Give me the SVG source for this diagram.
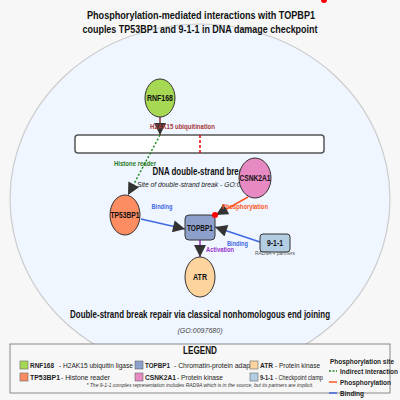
<svg xmlns="http://www.w3.org/2000/svg" width="400" height="400" viewBox="0 0 400 400">
<defs>
<style>
text{font-family:"Liberation Sans",Arial,sans-serif;}
.b{font-weight:bold;}
.t{font-size:11px;font-weight:bold;fill:#111;}
.n{font-size:9px;font-weight:bold;fill:#111;text-anchor:middle;}
.node{stroke:#333;stroke-width:1;}
.el{font-size:7.5px;font-weight:bold;text-anchor:middle;}
.lg{font-size:7.5px;fill:#222;}
.sw{stroke:#666;stroke-width:0.6;}
</style>
<marker id="arr" markerUnits="userSpaceOnUse" markerWidth="13" markerHeight="12" viewBox="0 0 10 10" refX="10" refY="5" orient="auto">
<path d="M0,0 L10,5 L0,10 z" fill="#333"/>
</marker>
</defs>
<rect width="400" height="400" fill="#f7f7f7"/>

<g id="compartment">
<ellipse cx="200" cy="199" rx="190" ry="175" fill="#eff6ff" stroke="#cccccc" stroke-width="1.2"/>
<text class="b" x="200" y="175" text-anchor="middle" font-size="10" fill="#111" textLength="95" lengthAdjust="spacingAndGlyphs">DNA double-strand break</text>
<text x="200" y="187" text-anchor="middle" font-size="8" font-style="italic" fill="#222" textLength="126" lengthAdjust="spacingAndGlyphs">Site of double-strand break - GO:0035861</text>
<text class="b" x="200" y="318" text-anchor="middle" font-size="10" fill="#111" textLength="260" lengthAdjust="spacingAndGlyphs">Double-strand break repair via classical nonhomologous end joining</text>
<text x="200" y="333" text-anchor="middle" font-size="7.5" font-style="italic" fill="#444" textLength="45" lengthAdjust="spacingAndGlyphs">(GO:0097680)</text>
</g>

<circle cx="324" cy="0" r="3" fill="#ff0000"/>
<text class="t" x="201" y="18.5" text-anchor="middle" textLength="228" lengthAdjust="spacingAndGlyphs">Phosphorylation-mediated interactions with TOPBP1</text>
<text class="t" x="200" y="33" text-anchor="middle" textLength="235" lengthAdjust="spacingAndGlyphs">couples TP53BP1 and 9-1-1 in DNA damage checkpoint</text>

<g id="chromatin">
<rect x="75" y="135" width="249" height="18" rx="3" fill="#ffffff" stroke="#555" stroke-width="1.5"/>
<line x1="200" y1="135" x2="200" y2="153" stroke="#ee0000" stroke-width="1.5" stroke-dasharray="3,2"/>
</g>

<g id="connectors" fill="none">
<line x1="160" y1="117" x2="160" y2="135" stroke="#8b3a3a" stroke-width="1.5" marker-end="url(#arr)"/>
<line x1="160" y1="135" x2="128" y2="195" stroke="#228b22" stroke-width="1.5" stroke-dasharray="2,2" marker-end="url(#arr)"/>
<line x1="141" y1="219" x2="185" y2="229" stroke="#4169e1" stroke-width="1.5" marker-end="url(#arr)"/>
<line x1="248" y1="197" x2="216" y2="215" stroke="#ff5722" stroke-width="1.5" marker-end="url(#arr)"/>
<line x1="260" y1="242" x2="215" y2="227" stroke="#4169e1" stroke-width="1.5" marker-end="url(#arr)"/>
<line x1="200" y1="240" x2="200" y2="257" stroke="#9932cc" stroke-width="1.5" marker-end="url(#arr)"/>
<text class="el" x="182.5" y="129" fill="#a83838" textLength="65" lengthAdjust="spacingAndGlyphs">H2AK15 ubiquitination</text>
<text class="el" x="135" y="166" fill="#1f7a1f" textLength="42" lengthAdjust="spacingAndGlyphs">Histone reader</text>
<text class="el" x="162" y="209" fill="#4169e1" textLength="21" lengthAdjust="spacingAndGlyphs">Binding</text>
<text class="el" x="245" y="209" fill="#ff5722" textLength="46" lengthAdjust="spacingAndGlyphs">Phosphorylation</text>
<text class="el" x="237.5" y="246" fill="#4169e1" textLength="21" lengthAdjust="spacingAndGlyphs">Binding</text>
<text class="el" x="220" y="252" fill="#9932cc" textLength="28" lengthAdjust="spacingAndGlyphs">Activation</text>
</g>

<g id="RNF168">
<ellipse class="node" cx="160" cy="98" rx="15" ry="19" fill="#a6d854"/>
<text class="n" x="160" y="101" textLength="26" lengthAdjust="spacingAndGlyphs">RNF168</text>
</g>
<g id="TP53BP1">
<ellipse class="node" cx="125" cy="215" rx="15" ry="20" fill="#fc8d62"/>
<text class="n" x="125" y="218" textLength="29" lengthAdjust="spacingAndGlyphs">TP53BP1</text>
</g>
<g id="CSNK2A1">
<ellipse class="node" cx="255" cy="178" rx="16" ry="20" fill="#e78ac3"/>
<text class="n" x="255" y="181" textLength="31" lengthAdjust="spacingAndGlyphs">CSNK2A1</text>
</g>
<g id="TOPBP1">
<rect class="node" x="185" y="215" width="30" height="25" rx="4" fill="#8da0cb"/>
<text class="n" x="200" y="231" textLength="26" lengthAdjust="spacingAndGlyphs">TOPBP1</text>
<circle cx="215" cy="215" r="3" fill="#ff0000"/>
</g>
<g id="n911">
<rect class="node" x="260" y="234" width="30" height="18" rx="3" fill="#b3cde3"/>
<text class="n" x="275" y="246" textLength="16" lengthAdjust="spacingAndGlyphs">9-1-1</text>
<text x="275" y="255" text-anchor="middle" font-size="5.5" fill="#555" textLength="40" lengthAdjust="spacingAndGlyphs">RAD9A + partners</text>
</g>
<g id="ATR">
<ellipse class="node" cx="200" cy="277" rx="15" ry="20" fill="#fdd49e"/>
<text class="n" x="200" y="280" textLength="14" lengthAdjust="spacingAndGlyphs">ATR</text>
</g>

<g id="legend">
<rect x="10" y="344" width="380" height="49" fill="#f7f7f7" stroke="#888" stroke-width="1"/>
<text class="b" x="200" y="354" text-anchor="middle" font-size="10" fill="#111" textLength="34" lengthAdjust="spacingAndGlyphs">LEGEND</text>
<rect class="sw" x="20" y="361" width="8" height="8" fill="#a6d854"/>
<text class="lg b" x="30" y="368" textLength="24" lengthAdjust="spacingAndGlyphs">RNF168</text>
<text class="lg" x="59" y="368" textLength="74" lengthAdjust="spacingAndGlyphs">- H2AK15 ubiquitin ligase</text>
<rect class="sw" x="20" y="373" width="8" height="8" fill="#fc8d62"/>
<text class="lg b" x="30" y="380" textLength="30" lengthAdjust="spacingAndGlyphs">TP53BP1</text>
<text class="lg" x="61" y="380" textLength="49" lengthAdjust="spacingAndGlyphs">- Histone reader</text>
<text class="lg b" x="145" y="368" textLength="25" lengthAdjust="spacingAndGlyphs">TOPBP1</text>
<text class="lg" x="174" y="368" textLength="84" lengthAdjust="spacingAndGlyphs">- Chromatin-protein adaptor</text>
<rect class="sw" x="135" y="361" width="8" height="8" fill="#8da0cb"/>
<rect class="sw" x="135" y="373" width="8" height="8" fill="#e78ac3"/>
<text class="lg b" x="145" y="380" textLength="31" lengthAdjust="spacingAndGlyphs">CSNK2A1</text>
<text class="lg" x="177" y="380" textLength="46" lengthAdjust="spacingAndGlyphs">- Protein kinase</text>
<rect class="sw" x="250" y="361" width="8" height="8" fill="#fdd49e"/>
<text class="lg b" x="260" y="368" textLength="13" lengthAdjust="spacingAndGlyphs">ATR</text>
<text class="lg" x="275" y="368" textLength="45" lengthAdjust="spacingAndGlyphs">- Protein kinase</text>
<rect class="sw" x="250" y="373" width="8" height="8" fill="#b3cde3"/>
<text class="lg b" x="260" y="380" textLength="13" lengthAdjust="spacingAndGlyphs">9-1-1</text>
<text class="lg" x="275" y="380" textLength="48" lengthAdjust="spacingAndGlyphs">- Checkpoint clamp</text>
<text x="200" y="387" text-anchor="middle" font-size="5" font-style="italic" fill="#333" textLength="227" lengthAdjust="spacingAndGlyphs">* The 9-1-1 complex representation includes RAD9A which is in the source, but its partners are implicit.</text>
<text class="lg b" x="330" y="364" fill="#111" textLength="64" lengthAdjust="spacingAndGlyphs">Phosphorylation site</text>
<line x1="329" y1="371" x2="337" y2="371" stroke="#228b22" stroke-width="1.5" stroke-dasharray="2,1.5"/>
<text class="lg b" x="340" y="374" fill="#111" textLength="58" lengthAdjust="spacingAndGlyphs">Indirect interaction</text>
<line x1="329" y1="382" x2="337" y2="382" stroke="#ff5722" stroke-width="1.5"/>
<text class="lg b" x="340" y="385" fill="#111" textLength="51" lengthAdjust="spacingAndGlyphs">Phosphorylation</text>
<line x1="329" y1="393" x2="337" y2="393" stroke="#4169e1" stroke-width="1.5"/>
<text class="lg b" x="340" y="396" fill="#111" textLength="24" lengthAdjust="spacingAndGlyphs">Binding</text>
</g>
</svg>
